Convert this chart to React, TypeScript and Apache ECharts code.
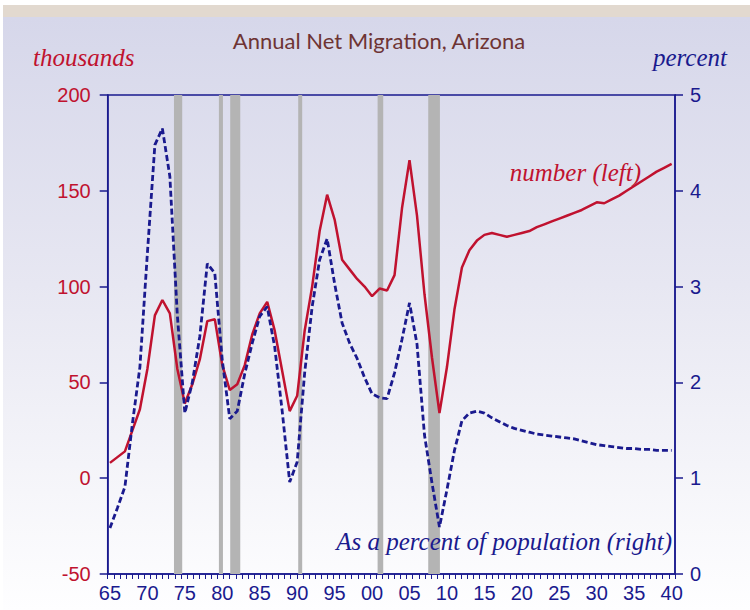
import React, { useEffect, useRef } from "react";
import * as echarts from "echarts";

const START_YEAR = 1965;
const netMigrationThousands = [
  8, 11, 14, 25, 36, 57, 85, 93, 86, 57,
  39, 49, 62, 82, 83, 59, 46, 49, 59, 75,
  86, 92, 77, 56, 35, 43, 77, 100, 129, 148,
  135, 114, 109, 104, 100, 95, 99, 98, 106, 141,
  166, 137, 96, 63, 34, 58, 88, 110, 119, 124,
  127, 128, 127, 126, 127, 128, 129, 131, 132.5, 134,
  135.5, 137, 138.5, 140, 142, 144, 143.5, 145.5, 147.5, 150,
  152.5, 155, 157.5, 160, 162, 164,
];
const netMigrationPct = [
  0.48, 0.69, 0.91, 1.57, 2.16, 3.35, 4.48, 4.65, 4.15, 2.7,
  1.68, 2.0, 2.48, 3.24, 3.14, 2.23, 1.62, 1.7, 2.09, 2.41,
  2.69, 2.79, 2.37, 1.7, 0.96, 1.17, 2.1, 2.79, 3.28, 3.5,
  3.03, 2.62, 2.41, 2.25, 2.05, 1.88, 1.84, 1.83, 2.1, 2.45,
  2.83, 2.4, 1.45, 0.95, 0.49, 0.88, 1.29, 1.6, 1.68, 1.7,
  1.68, 1.63, 1.59, 1.55, 1.52, 1.5, 1.48, 1.46, 1.45, 1.44,
  1.43, 1.42, 1.41, 1.39, 1.37, 1.35, 1.34, 1.33, 1.32, 1.31,
  1.31, 1.3, 1.3, 1.29, 1.29, 1.29,
];
const recessionStarts = [1973.55, 1979.55, 1981.06, 1990.14, 2000.74, 2007.5];
const recessionEnds = [1974.65, 1980.09, 1982.4, 1990.67, 2001.49, 2009.06];
const xLabelYears = [1965, 1970, 1975, 1980, 1985, 1990, 1995, 2000, 2005, 2010, 2015, 2020, 2025, 2030, 2035, 2040];
const leftTicks = [-50, 0, 50, 100, 150, 200];
const rightTicks = [0, 1, 2, 3, 4, 5];

const RED = "#c0122f";
const NAVY = "#1a1a8e";
const X_MIN = 1964.7;
const X_MAX = 2040.45;

export default function App() {
  const ref = useRef<HTMLDivElement>(null);
  useEffect(() => {
    if (!ref.current) return;
    const chart = echarts.init(ref.current, null, { renderer: "svg" });
    const redData = netMigrationThousands.map((v, i) => [START_YEAR + i, v]);
    const blueData = netMigrationPct.map((v, i) => [START_YEAR + i, v]);
    const tickVals: number[] = [];
    for (let t = X_MIN; t <= X_MAX + 1e-6; t += 0.8144) tickVals.push(t);
    const sans = "'Liberation Sans', Arial, sans-serif";
    const serif = "'Liberation Serif', 'Times New Roman', serif";
    const label = (x: number, y: number, text: string, fill: string, align: string) => ({
      type: "text",
      x,
      y,
      z: 100,
      style: { text, fill, font: `italic 25px ${serif}`, align, verticalAlign: "middle" },
    });
    chart.setOption({
      animation: false,
      backgroundColor: "#ffffff",
      graphic: [
        {
          type: "rect",
          z: -100,
          shape: { x: 3, y: 17, width: 747, height: 593 },
          style: {
            fill: new echarts.graphic.LinearGradient(0, 0, 0, 1, [
              { offset: 0, color: "#d6d7ea" },
              { offset: 0.45, color: "#e7e7f2" },
              { offset: 0.8, color: "#f6f6fa" },
              { offset: 1, color: "#fefeff" },
            ]),
          },
          silent: true,
        },
        {
          type: "rect",
          z: -100,
          shape: { x: 3, y: 5, width: 747, height: 12 },
          style: { fill: "#e2d9cf" },
          silent: true,
        },
        {
          type: "text",
          x: 379,
          y: 40,
          z: 100,
          style: {
            text: "Annual Net Migration, Arizona",
            fill: "#6e3434",
            font: "22px Lato, 'Open Sans', sans-serif",
            align: "center",
            verticalAlign: "middle",
          },
        },
        label(33, 57, "thousands", RED, "left"),
        label(727, 57, "percent", NAVY, "right"),
        label(641, 172, "number (left)", RED, "right"),
        label(672, 541, "As a percent of population (right)", NAVY, "right"),
      ],
      grid: {
        left: 107.7,
        right: 75,
        top: 95,
        bottom: 36,
        show: true,
        borderColor: NAVY,
        borderWidth: 1.5,
        backgroundColor: "transparent",
      },
      xAxis: {
        type: "value",
        min: X_MIN,
        max: X_MAX,
        axisLine: { show: true, onZero: false, lineStyle: { color: NAVY, width: 1.5 } },
        axisTick: {
          show: true,
          length: 5,
          lineStyle: { color: NAVY, width: 1 },
          customValues: tickVals,
        },
        axisLabel: {
          customValues: xLabelYears,
          color: NAVY,
          fontSize: 20,
          fontFamily: sans,
          margin: 9,
          formatter: (v: number) => String(Math.round(v) % 100).padStart(2, "0"),
        },
        splitLine: { show: false },
      },
      yAxis: [
        {
          type: "value",
          min: -50,
          max: 200,
          interval: 50,
          position: "left",
          axisLine: { show: true, onZero: false, lineStyle: { color: NAVY, width: 1.5 } },
          axisTick: { show: true, length: 8, lineStyle: { color: NAVY, width: 1.5 }, customValues: leftTicks },
          axisLabel: { color: RED, fontSize: 20, fontFamily: sans, margin: 17 },
          splitLine: { show: false },
        },
        {
          type: "value",
          min: 0,
          max: 5,
          interval: 1,
          position: "right",
          axisLine: { show: true, onZero: false, lineStyle: { color: NAVY, width: 1.5 } },
          axisTick: { show: true, length: 8, lineStyle: { color: NAVY, width: 1.5 }, customValues: rightTicks },
          axisLabel: { color: NAVY, fontSize: 20, fontFamily: sans, margin: 15 },
          splitLine: { show: false },
        },
      ],
      series: [
        {
          name: "number (left)",
          type: "line",
          yAxisIndex: 0,
          data: redData,
          showSymbol: false,
          symbol: "none",
          z: 2,
          lineStyle: { color: RED, width: 2.5 },
          markArea: {
            silent: true,
            itemStyle: { color: "#b4b4b4", opacity: 1 },
            data: recessionStarts.map((s, i) => [{ xAxis: s }, { xAxis: recessionEnds[i] }]),
          },
        },
        {
          name: "As a percent of population (right)",
          type: "line",
          yAxisIndex: 1,
          data: blueData,
          showSymbol: false,
          symbol: "none",
          z: 3,
          lineStyle: { color: NAVY, width: 2.8, type: [6, 3] },
        },
      ],
    });
    return () => chart.dispose();
  }, []);
  return (
    <div
      ref={ref}
      style={{ position: "fixed", left: 0, top: 0, width: 750, height: 610 }}
    />
  );
}
